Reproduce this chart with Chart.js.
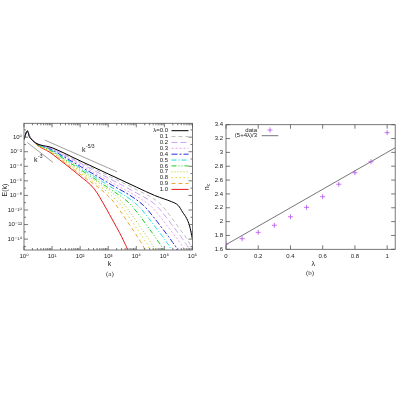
<!DOCTYPE html>
<html>
<head>
<meta charset="utf-8">
<script src="https://cdn.jsdelivr.net/npm/chart.js@4/dist/chart.umd.min.js"></script>
<style>
  body { margin: 0; background: #fff; width: 400px; height: 400px; position: relative; overflow: hidden; }
  .box { position: absolute; top: 110px; width: 200px; height: 170px; }
  #boxA { left: 0; }
  #boxB { left: 200px; }
  .cap { position: absolute; font-family: "Liberation Serif", serif; font-size: 7px; color: #333; }
</style>
</head>
<body>
<div class="box" id="boxA"><canvas id="specChart"></canvas></div>
<div class="box" id="boxB"><canvas id="slopeChart"></canvas></div>
<div class="cap" style="left:106px; top:270px;">(a)</div>
<div class="cap" style="left:306px; top:269px;">(b)</div>
<script>
// ---- panel (a): E(k) as log10 k / log10 E ----
const legendNames = ["λ=0.0", "0.1", "0.2", "0.3", "0.4", "0.5", "0.6", "0.7", "0.8", "0.9", "1.0"];

const logK00 = [0, 0.12, 0.2, 1, 2, 3, 4, 4.65, 5.0, 5.25, 5.5, 5.65, 5.8, 5.9, 6.0];
const logE00 = [-0.3, 0.85, 0.0, -1.45, -3.25, -5.05, -6.85, -8.0, -8.5, -8.85, -9.4, -10.3, -11.2, -12.2, -14.0];
const logK01 = [0, 0.12, 0.2, 1, 2, 3, 4, 4.82, 5.22, 5.52, 5.72, 5.87, 6.02];
const logE01 = [-0.3, 0.85, 0.05, -1.5, -3.4, -5.3, -7.2, -9.04, -10.87, -12.46, -13.51, -14.38, -15.5];
const logK02 = [0, 0.12, 0.2, 1, 2, 3, 4, 4.68, 5.08, 5.38, 5.58, 5.73, 5.88, 5.93];
const logE02 = [-0.3, 0.85, 0.1, -1.55, -3.57, -5.61, -7.65, -9.28, -11.06, -12.6, -13.61, -14.43, -15.5, -16.5];
const logK03 = [0, 0.12, 0.2, 1, 2, 3, 4, 4.5, 4.9, 5.2, 5.4, 5.55, 5.7, 5.75];
const logE03 = [-0.3, 0.85, 0.1, -1.63, -3.79, -5.95, -8.11, -9.41, -11.17, -12.67, -13.66, -14.47, -15.5, -16.5];
const logK04 = [0, 0.12, 0.2, 1, 2, 3, 4.25, 4.65, 4.95, 5.15, 5.3, 5.45, 5.5];
const logE04 = [-0.3, 0.85, 0.1, -1.72, -4.0, -6.28, -9.35, -11.14, -12.65, -13.66, -14.47, -15.5, -16.5];
const logK05 = [0, 0.12, 0.2, 1, 2, 3, 4.04, 4.44, 4.74, 4.94, 5.09, 5.24, 5.29];
const logE05 = [-0.3, 0.85, 0.1, -1.82, -4.22, -6.62, -9.33, -11.13, -12.66, -13.66, -14.48, -15.5, -16.5];
const logK06 = [0, 0.12, 0.2, 1, 2, 3, 3.75, 4.15, 4.45, 4.65, 4.8, 4.95, 5.0];
const logE06 = [-0.3, 0.85, 0.1, -1.92, -4.44, -6.96, -9.07, -10.94, -12.53, -13.58, -14.43, -15.5, -16.5];
const logK07 = [0, 0.12, 0.2, 1, 2, 3.45, 3.85, 4.15, 4.35, 4.5, 4.65, 4.7];
const logE07 = [-0.3, 0.85, 0.1, -2.01, -4.65, -8.71, -10.7, -12.37, -13.48, -14.37, -15.5, -16.5];
const logK08 = [0, 0.12, 0.2, 1, 2, 3.28, 3.68, 3.98, 4.18, 4.33, 4.48, 4.53];
const logE08 = [-0.3, 0.85, 0.1, -2.11, -4.87, -8.63, -10.64, -12.34, -13.46, -14.37, -15.5, -16.5];
const logK09 = [0, 0.12, 0.2, 1, 2, 3.1, 3.5, 3.8, 4.0, 4.15, 4.3, 4.35];
const logE09 = [-0.3, 0.85, 0.1, -2.2, -5.08, -8.48, -10.54, -12.28, -13.43, -14.35, -15.5, -16.5];
const logK10 = [0, 0.12, 0.2, 1, 2, 2.5, 2.9, 3.2, 3.4, 3.55, 3.7, 3.75];
const logE10 = [-0.3, 0.85, 0.1, -2.3, -5.35, -7.1, -9.6, -11.7, -13.1, -14.25, -15.7, -16.8];

// guide lines k^-5/3 and k^-3
const guideSlowK = [0.74, 3.31];
const guideSlowE = [-0.4, -4.75];
const guideSteepK = [0.12, 1.03];
const guideSteepE = [-0.74, -3.46];

const xDecades = [1, 10, 100, 1e3, 1e4, 1e5, 1e6];
const yLabelled = [1e-14, 1e-12, 1e-10, 1e-8, 1e-6, 1e-4, 1e-2, 1];
const yUnlabelled = [1e-15, 1e-13, 1e-11, 1e-9, 1e-7, 1e-5, 1e-3, 1e-1, 10];

// ---- panel (b): n_c vs lambda ----
const lambdaPts = [0, 0.1, 0.2, 0.3, 0.4, 0.5, 0.6, 0.7, 0.8, 0.9, 1.0];
const ncPts = [1.677, 1.753, 1.845, 1.947, 2.07, 2.206, 2.36, 2.54, 2.706, 2.865, 3.285];
const fitLam = [0, 1.05];
const fitNc = [1.667, 3.067];
const lamTicks = [0, 0.2, 0.4, 0.6, 0.8, 1];
const ncTicks = [1.6, 1.8, 2, 2.2, 2.4, 2.6, 2.8, 3, 3.2, 3.4];

const curveK = [logK00, logK01, logK02, logK03, logK04, logK05, logK06, logK07, logK08, logK09, logK10];
const curveE = [logE00, logE01, logE02, logE03, logE04, logE05, logE06, logE07, logE08, logE09, logE10];
const colors = ["#000000", "#bdbdbd", "#c7a3f2", "#e8a2e8", "#2b2be0", "#22dcdc", "#22cc22", "#b9c62a", "#dcd23a", "#f2a232", "#e41a1a"];
const dashes = [[], [4, 3], [6, 3], [2, 2], [6, 2, 2, 2], [5, 2, 1, 2], [5, 2, 1, 2, 1, 2], [1, 2], [1.5, 2.5], [4, 3], []];

const FONT = '"Liberation Sans", "DejaVu Sans", sans-serif';
const SUP = { "-": "⁻", "0": "⁰", "1": "¹", "2": "²", "3": "³", "4": "⁴", "5": "⁵", "6": "⁶", "7": "⁷", "8": "⁸", "9": "⁹" };

function powLabel(v) {
  const e = String(Math.round(Math.log10(v)));
  return "10" + e.split("").map((c) => SUP[c]).join("");
}

function toPoints(ks, es) {
  return ks.map((k, i) => ({ x: Math.pow(10, k), y: Math.pow(10, es[i]) }));
}

function drawFrame(chart) {
  const { ctx, chartArea: a } = chart;
  const sx = chart.scales.x;
  const sy = chart.scales.y;
  ctx.save();
  ctx.strokeStyle = "#555";
  ctx.lineWidth = 0.8;
  ctx.strokeRect(a.left, a.top, a.right - a.left, a.bottom - a.top);
  ctx.beginPath();
  sx.ticks.forEach((t) => {
    const p = sx.getPixelForValue(t.value);
    if (p < a.left - 0.5 || p > a.right + 0.5) return;
    const len = t.major ? 4 : 2;
    ctx.moveTo(p, a.bottom); ctx.lineTo(p, a.bottom - len);
    ctx.moveTo(p, a.top); ctx.lineTo(p, a.top + len);
  });
  sy.ticks.forEach((t) => {
    const p = sy.getPixelForValue(t.value);
    if (p < a.top - 0.5 || p > a.bottom + 0.5) return;
    const len = t.major ? 4 : 2;
    ctx.moveTo(a.left, p); ctx.lineTo(a.left + len, p);
    ctx.moveTo(a.right, p); ctx.lineTo(a.right - len, p);
  });
  ctx.stroke();
  ctx.restore();
}

// k with a raised exponent, drawn as text
function powerText(ctx, x, y, base, exp) {
  ctx.font = "7px " + FONT;
  ctx.fillText(base, x, y);
  const w = ctx.measureText(base).width;
  ctx.font = "5px " + FONT;
  ctx.fillText(exp, x + w + 0.5, y - 3);
}

const specDecor = {
  id: "specDecor",
  afterDraw(chart) {
    const ctx = chart.ctx;
    drawFrame(chart);
    ctx.save();
    ctx.fillStyle = "#222";
    ctx.textBaseline = "middle";
    ctx.font = "6px " + FONT;
    ctx.textAlign = "right";
    legendNames.forEach((name, i) => {
      const ds = chart.data.datasets[i];
      const y = 20.7 + i * 5.87;
      ctx.fillText(name, 168, y);
      ctx.save();
      ctx.strokeStyle = ds.borderColor;
      ctx.lineWidth = ds.borderWidth;
      ctx.setLineDash(ds.borderDash);
      ctx.beginPath();
      ctx.moveTo(171.5, y);
      ctx.lineTo(188.5, y);
      ctx.stroke();
      ctx.restore();
    });
    ctx.textAlign = "left";
    powerText(ctx, 82, 40, "k", "-5/3");
    powerText(ctx, 34, 50, "k", "-3");
    ctx.textAlign = "center";
    ctx.font = "7px " + FONT;
    ctx.fillText("k", 109.5, 154);
    ctx.translate(5.5, 80);
    ctx.rotate(-Math.PI / 2);
    ctx.fillText("E(k)", 0, 0);
    ctx.restore();
  },
};

const slopeDecor = {
  id: "slopeDecor",
  afterDraw(chart) {
    const ctx = chart.ctx;
    drawFrame(chart);
    ctx.save();
    ctx.fillStyle = "#222";
    ctx.textBaseline = "middle";
    ctx.font = "6px " + FONT;
    ctx.textAlign = "right";
    ctx.fillText("data", 57, 20);
    ctx.fillText("(5+4λ)/3", 57, 25.7);
    ctx.strokeStyle = "#b84ef0";
    ctx.lineWidth = 0.8;
    ctx.beginPath();
    ctx.moveTo(67.5, 20); ctx.lineTo(72.5, 20);
    ctx.moveTo(70, 17.5); ctx.lineTo(70, 22.5);
    ctx.stroke();
    ctx.strokeStyle = "#777";
    ctx.lineWidth = 1;
    ctx.beginPath();
    ctx.moveTo(61.7, 25.7); ctx.lineTo(78.3, 25.7);
    ctx.stroke();
    ctx.textAlign = "center";
    ctx.font = "7px " + FONT;
    ctx.fillText("λ", 113.3, 154);
    ctx.translate(7, 78.3);
    ctx.rotate(-Math.PI / 2);
    ctx.fillText("n", 0, 0);
    ctx.font = "5px " + FONT;
    ctx.fillText("c", 3.5, 2);
    ctx.restore();
  },
};

const specSets = curveK.map((ks, i) => ({
  label: legendNames[i],
  data: toPoints(ks, curveE[i]),
  borderColor: colors[i],
  borderWidth: 1,
  borderDash: dashes[i],
  pointRadius: 0,
  cubicInterpolationMode: "monotone",
}));
specSets.push({
  label: "k^-5/3",
  data: toPoints(guideSlowK, guideSlowE),
  borderColor: "#888",
  borderWidth: 0.8,
  borderDash: [],
  pointRadius: 0,
});
specSets.push({
  label: "k^-3",
  data: toPoints(guideSteepK, guideSteepE),
  borderColor: "#888",
  borderWidth: 0.8,
  borderDash: [],
  pointRadius: 0,
});

const plainGrid = { display: false, drawTicks: false };

new Chart(document.getElementById("specChart"), {
  type: "line",
  data: { datasets: specSets },
  plugins: [specDecor],
  options: {
    responsive: true,
    maintainAspectRatio: false,
    animation: false,
    parsing: false,
    layout: { padding: { top: 13.3, right: 5, left: 0, bottom: 0 } },
    plugins: { legend: { display: false }, tooltip: { enabled: false } },
    scales: {
      x: {
        type: "logarithmic",
        min: 1,
        max: 1e6,
        afterBuildTicks: (s) => {
          const t = [];
          xDecades.forEach((d, i) => {
            t.push({ value: d, major: true });
            if (i < xDecades.length - 1) {
              for (let m = 2; m < 10; m++) t.push({ value: d * m, major: false });
            }
          });
          s.ticks = t;
        },
        afterFit: (s) => { s.height = 30; },
        grid: plainGrid,
        border: { display: false },
        ticks: {
          autoSkip: false,
          maxRotation: 0,
          padding: 3,
          color: "#222",
          font: { size: 6, family: FONT },
          callback: (v, i, ticks) => (ticks[i].major ? powLabel(v) : ""),
        },
      },
      y: {
        type: "logarithmic",
        min: 3.2e-16,
        max: 80,
        afterBuildTicks: (s) => {
          s.ticks = yLabelled.map((v) => ({ value: v, major: true }))
            .concat(yUnlabelled.map((v) => ({ value: v, major: false })))
            .sort((a, b) => a.value - b.value);
        },
        afterFit: (s) => { s.width = 24; },
        grid: plainGrid,
        border: { display: false },
        ticks: {
          autoSkip: false,
          padding: 2,
          color: "#222",
          font: { size: 6, family: FONT },
          callback: (v, i, ticks) => (ticks[i].major ? powLabel(v) : ""),
        },
      },
    },
  },
});

new Chart(document.getElementById("slopeChart"), {
  type: "line",
  data: {
    datasets: [
      {
        label: "data",
        data: lambdaPts.map((l, i) => ({ x: l, y: ncPts[i] })),
        showLine: false,
        pointStyle: "cross",
        pointRadius: 2.5,
        borderColor: "#b84ef0",
        borderWidth: 0.8,
      },
      {
        label: "(5+4λ)/3",
        data: fitLam.map((l, i) => ({ x: l, y: fitNc[i] })),
        borderColor: "#777",
        borderWidth: 1,
        pointRadius: 0,
      },
    ],
  },
  plugins: [slopeDecor],
  options: {
    responsive: true,
    maintainAspectRatio: false,
    animation: false,
    parsing: false,
    layout: { padding: { top: 14.7, right: 0.7, left: 0, bottom: 0 } },
    plugins: { legend: { display: false }, tooltip: { enabled: false } },
    scales: {
      x: {
        type: "linear",
        min: 0,
        max: 1.05,
        afterBuildTicks: (s) => { s.ticks = lamTicks.map((v) => ({ value: v, major: true })); },
        afterFit: (s) => { s.height = 30.7; },
        grid: plainGrid,
        border: { display: false },
        ticks: {
          autoSkip: false,
          maxRotation: 0,
          padding: 3,
          color: "#222",
          font: { size: 6, family: FONT },
          callback: (v) => String(+v.toFixed(1)),
        },
      },
      y: {
        type: "linear",
        min: 1.6,
        max: 3.4,
        afterBuildTicks: (s) => { s.ticks = ncTicks.map((v) => ({ value: v, major: true })); },
        afterFit: (s) => { s.width = 26; },
        grid: plainGrid,
        border: { display: false },
        ticks: {
          autoSkip: false,
          padding: 3,
          color: "#222",
          font: { size: 6, family: FONT },
          callback: (v) => String(+v.toFixed(1)),
        },
      },
    },
  },
});
</script>
</body>
</html>
